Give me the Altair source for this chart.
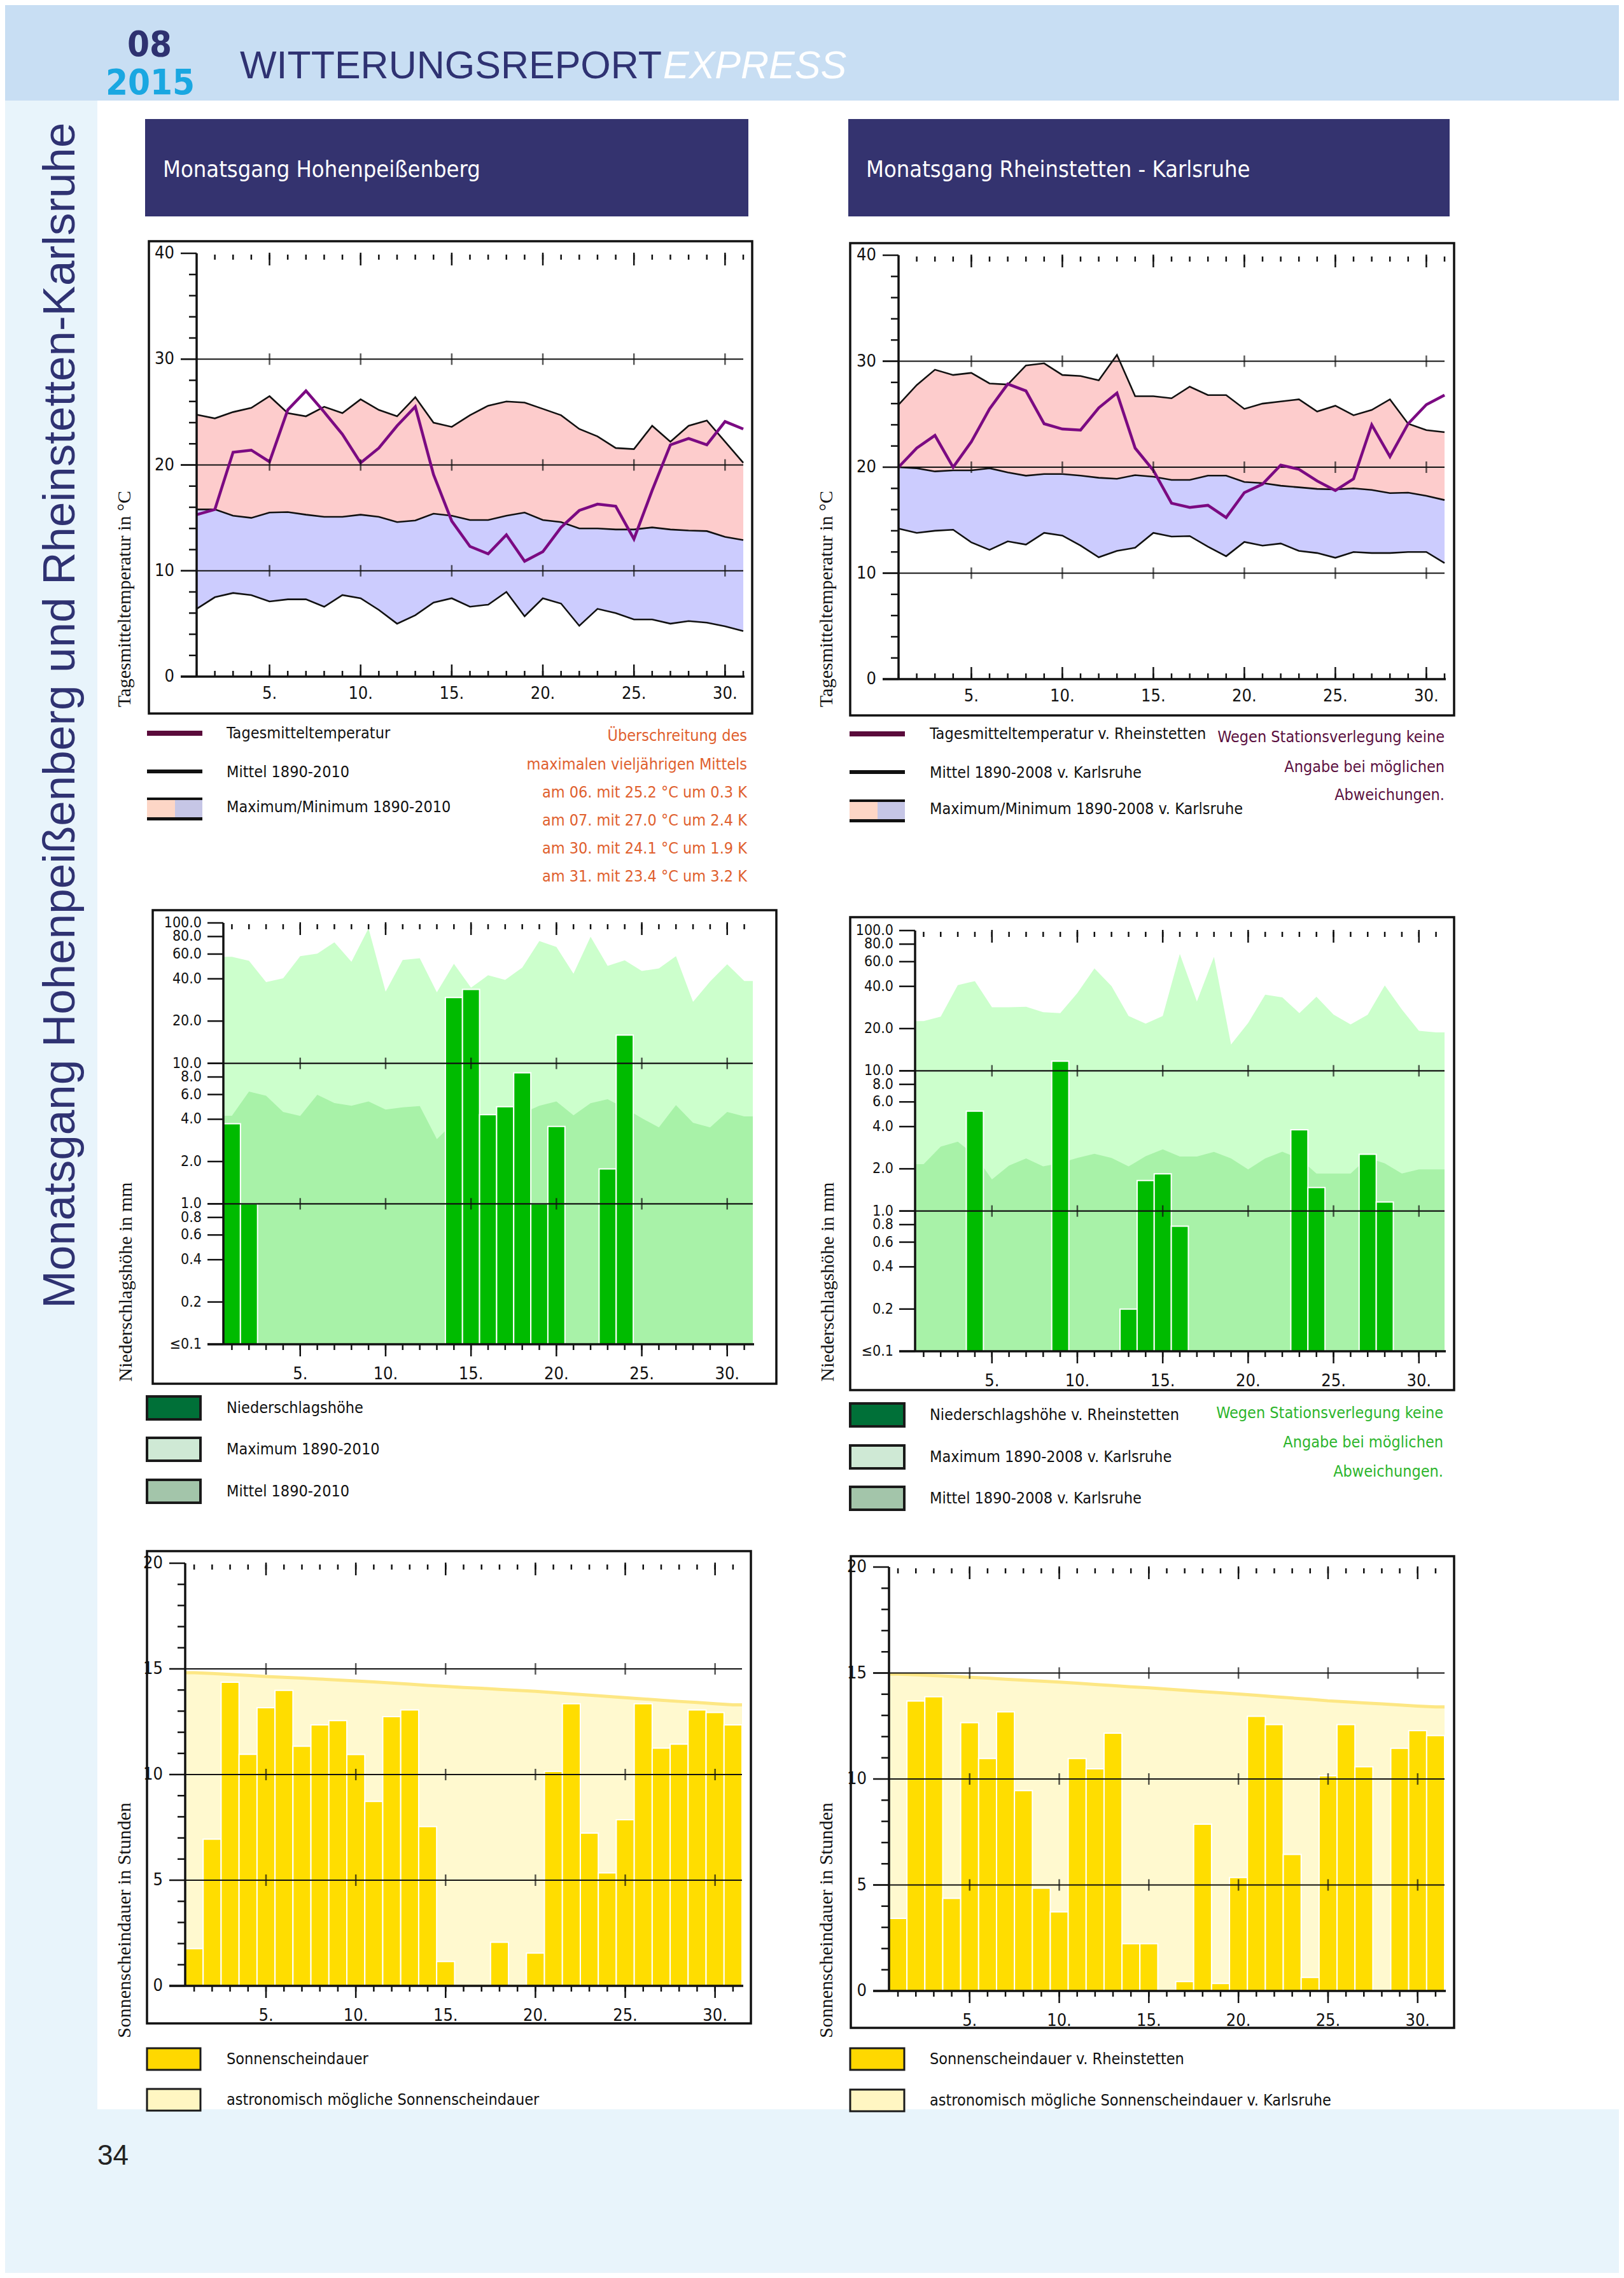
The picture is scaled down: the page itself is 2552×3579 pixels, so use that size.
import altair as alt
import pandas as pd

# ---------------------------------------------------------------- data
DAYS = list(range(1, 32))
DAY_MAJOR = [5, 10, 15, 20, 25, 30]

# Hohenpeissenberg temperature (deg C)
HP_T_MAX = [24.75, 24.4, 25.0, 25.4, 26.5, 24.9, 24.6, 25.5, 24.9, 26.2, 25.2, 24.6, 26.4, 24.0, 23.6, 24.7,
            25.6, 26.0, 25.9, 25.3, 24.7, 23.4, 22.7, 21.6, 21.5, 23.7, 22.2, 23.7, 24.2, 22.2, 20.2]
HP_T_MEAN = [15.8, 15.8, 15.2, 15.0, 15.5, 15.55, 15.3, 15.1, 15.1, 15.3, 15.1, 14.6, 14.75, 15.4, 15.2, 14.8,
             14.8, 15.2, 15.5, 14.8, 14.6, 14.0, 14.0, 13.9, 13.9, 14.1, 13.9, 13.8, 13.75, 13.2, 12.9]
HP_T_MIN = [6.4, 7.5, 7.9, 7.7, 7.1, 7.3, 7.3, 6.6, 7.7, 7.4, 6.3, 5.0, 5.8, 7.0, 7.4, 6.6,
            6.8, 8.0, 5.7, 7.4, 6.9, 4.8, 6.4, 6.0, 5.4, 5.4, 5.0, 5.25, 5.1, 4.75, 4.3]
HP_T_DAY = [15.3, 15.8, 21.2, 21.4, 20.3, 25.2, 27.0, 25.0, 22.9, 20.2, 21.6, 23.7, 25.5, 19.1, 14.7, 12.3,
            11.6, 13.4, 10.9, 11.8, 14.1, 15.7, 16.3, 16.1, 13.0, 17.6, 21.9, 22.5, 21.9, 24.1, 23.4]

# Rheinstetten / Karlsruhe temperature (deg C)
KA_T_MAX = [25.9, 27.75, 29.2, 28.7, 28.9, 27.9, 27.8, 29.6, 29.8, 28.7, 28.6, 28.2, 30.6, 26.7, 26.7, 26.5,
            27.6, 26.8, 26.8, 25.5, 26.0, 26.2, 26.4, 25.25, 25.8, 24.9, 25.4, 26.4, 24.1, 23.5, 23.3]
KA_T_MEAN = [20.0, 19.9, 19.6, 19.7, 19.7, 19.9, 19.5, 19.2, 19.35, 19.35, 19.2, 19.0, 18.9, 19.25, 19.1, 18.8,
             18.8, 19.2, 19.2, 18.6, 18.5, 18.25, 18.1, 17.95, 17.9, 18.0, 17.85, 17.55, 17.6, 17.3, 16.9]
KA_T_MIN = [14.2, 13.8, 14.0, 14.1, 12.9, 12.2, 13.0, 12.7, 13.8, 13.55, 12.6, 11.5, 12.1, 12.4, 13.8, 13.45,
            13.5, 12.5, 11.6, 12.95, 12.6, 12.8, 12.1, 11.9, 11.45, 12.0, 11.9, 11.9, 12.0, 12.0, 10.95]
KA_T_DAY = [20.0, 21.8, 23.0, 20.0, 22.4, 25.5, 27.85, 27.2, 24.1, 23.6, 23.5, 25.6, 27.0, 21.8, 19.7, 16.6,
            16.2, 16.4, 15.25, 17.6, 18.4, 20.2, 19.8, 18.7, 17.8, 18.9, 24.0, 21.0, 24.1, 25.9, 26.8]

# precipitation (mm)
HP_P_MAX = [57.4, 53.7, 37.9, 40.3, 58.0, 60.4, 72.8, 52.9, 91.4, 32.4, 54.5, 56.0, 32.1, 51.1, 34.6, 42.4,
            39.3, 48.1, 74.3, 67.5, 43.5, 79.7, 49.5, 54.2, 45.5, 47.4, 58.0, 27.4, 38.3, 50.8, 38.6]
HP_P_MEAN = [4.24, 6.29, 5.89, 4.51, 4.22, 5.98, 5.22, 4.99, 5.35, 4.69, 4.86, 4.96, 2.89, 3.8, 4.5, 4.3,
             4.2, 4.4, 4.99, 5.35, 4.27, 5.2, 5.56, 4.8, 4.07, 3.5, 5.04, 3.78, 3.5, 4.51, 4.19]
HP_PREC = [3.72, 1.0, 0, 0, 0, 0, 0, 0, 0, 0, 0, 0, 0, 29.4, 33.6, 4.31,
           4.91, 8.57, 1.0, 3.56, 0, 0, 1.77, 15.9, 0, 0, 0, 0, 0, 0, 0]

KA_P_MAX = [22.6, 24.3, 40.8, 43.6, 28.4, 28.4, 28.6, 26.2, 25.8, 35.8, 53.7, 40.2, 24.6, 21.7, 24.6, 68.1,
            31.2, 65.0, 15.4, 21.9, 34.9, 33.4, 25.8, 33.7, 25.2, 21.4, 25.1, 40.6, 27.4, 19.3, 18.8]
KA_P_MEAN = [2.16, 2.88, 3.12, 2.5, 1.68, 2.11, 2.37, 2.08, 2.2, 2.39, 2.56, 2.39, 2.08, 2.46, 2.75, 2.45,
             2.45, 2.64, 2.37, 1.98, 2.37, 2.65, 2.37, 1.85, 1.85, 1.85, 2.4, 2.19, 1.85, 1.98, 1.98]
KA_PREC = [0, 0, 0, 5.15, 0, 0, 0, 0, 11.7, 0, 0, 0, 0.2, 1.65, 1.84, 0.78,
           0, 0, 0, 0, 0, 0, 3.8, 1.47, 0, 0, 2.54, 1.16, 0, 0, 0]

# sunshine duration (h)
HP_SUN = [1.76, 6.94, 14.37, 10.96, 13.16, 13.98, 11.34, 12.35, 12.55, 10.95, 8.73, 12.74, 13.06, 7.54, 1.15, 0,
          0, 2.06, 0, 1.55, 10.15, 13.35, 7.23, 5.35, 7.86, 13.35, 11.25, 11.44, 13.06, 12.94, 12.35]
HP_ASTRO = [14.82, 14.78, 14.74, 14.69, 14.64, 14.60, 14.56, 14.52, 14.47, 14.43, 14.38, 14.33, 14.28, 14.22,
            14.17, 14.12, 14.08, 14.03, 13.98, 13.94, 13.88, 13.82, 13.76, 13.70, 13.64, 13.58, 13.52, 13.46,
            13.41, 13.35, 13.30]
KA_SUN = [3.42, 13.68, 13.88, 4.37, 12.66, 10.97, 13.17, 9.45, 4.85, 3.73, 10.97, 10.48, 12.16, 2.23, 2.23, 0,
          0.44, 7.87, 0.35, 5.35, 12.96, 12.57, 6.44, 0.64, 10.15, 12.57, 10.58, 0, 11.45, 12.28, 12.05]
KA_ASTRO = [14.95, 14.92, 14.88, 14.84, 14.80, 14.76, 14.71, 14.66, 14.62, 14.57, 14.52, 14.46, 14.41, 14.35,
            14.30, 14.24, 14.18, 14.12, 14.07, 14.01, 13.95, 13.88, 13.82, 13.76, 13.69, 13.64, 13.59, 13.54,
            13.49, 13.44, 13.40]

# axis ticks
TEMP_TICKS = [0, 10, 20, 30, 40]
TEMP_MINOR = [2, 4, 6, 8, 12, 14, 16, 18, 22, 24, 26, 28, 32, 34, 36, 38]
TEMP_GRID = [10, 20, 30]
PREC_TICKS = [100, 80, 60, 40, 20, 10, 8, 6, 4, 2, 1, 0.8, 0.6, 0.4, 0.2, 0.1]
PREC_LABELS = ["100.0", "80.0", "60.0", "40.0", "20.0", "10.0", "8.0", "6.0", "4.0", "2.0",
               "1.0", "0.8", "0.6", "0.4", "0.2", "\u22640.1"]
PREC_GRID = [1, 10]
SUN_TICKS = [0, 5, 10, 15, 20]
SUN_MINOR = [1, 2, 3, 4, 6, 7, 8, 9, 11, 12, 13, 14, 16, 17, 18, 19]
SUN_GRID = [5, 10, 15]

# ---------------------------------------------------------------- style
OFF = 8
ONE = pd.DataFrame({"k": [0]})
INK = "#111111"
NARROW = "Liberation Sans Narrow, DejaVu Sans Condensed, Liberation Sans, sans-serif"
SANS = "Liberation Sans, Arial, sans-serif"
SERIF = "Liberation Serif, DejaVu Serif, serif"
NAVY = "#34336f"
PINK = "#fdcccc"
LAV = "#ccccfe"
PURPLE = "#7b0a82"
P_MAX = "#ccffcc"
P_MEAN = "#a8f2a8"
P_BAR = "#00bb00"
S_BAR = "#ffdd00"
S_AST = "#fff9cf"
S_LINE = "#fde784"
HEAD = "#c8def3"
STRIP = "#e8f4fb"


def box(x, y, x2, y2, fill=None, stroke=None, sw=0):
    kw = {}
    if fill is None:
        kw["fill"] = "#ffffff"
        kw["fillOpacity"] = 0
    else:
        kw["fill"] = fill
    if stroke:
        kw["stroke"] = stroke
        kw["strokeWidth"] = sw
    return alt.Chart(ONE).mark_rect(**kw).encode(
        x=alt.value(x - OFF), x2=alt.value(x2 - OFF), y=alt.value(y - OFF), y2=alt.value(y2 - OFF))


def label(txt, x, y, size, color=INK, font=NARROW, align="left", angle=0, weight="normal",
          style="normal", baseline="middle"):
    return alt.Chart(ONE).mark_text(align=align, baseline=baseline, angle=angle, font=font, fontSize=size,
                                    fontWeight=weight, fontStyle=style, color=color).encode(
        x=alt.value(x - OFF), y=alt.value(y - OFF), text=alt.value(txt))


def lin(d0, d1, r0, r1):
    return alt.Scale(domain=[d0, d1], range=[r0 - OFF, r1 - OFF], nice=False, zero=False)


def logs(d0, d1, r0, r1):
    return alt.Scale(type="log", domain=[d0, d1], range=[r0 - OFF, r1 - OFF], nice=False)


def Xq(f, xs):
    return alt.X(f, type="quantitative", scale=xs, axis=None)


def Yq(f, ys):
    return alt.Y(f, type="quantitative", scale=ys, axis=None)


def grid_layers(ys, X0, X1, grid, base):
    return [
        alt.Chart(pd.DataFrame({"v": grid})).mark_rule(color=INK, strokeWidth=2.2).encode(
            y=Yq("v", ys), x=alt.value(X0 - 25 - OFF), x2=alt.value(X1 - OFF)),
        alt.Chart(pd.DataFrame({"v": [base]})).mark_rule(color=INK, strokeWidth=3.5).encode(
            y=Yq("v", ys), x=alt.value(X0 - 25 - OFF), x2=alt.value(X1 + 2 - OFF)),
    ]


def axes_layers(xs, ys, X0, X1, Y0, Y1, ticks, tick_labels, minor, grid, days_top, inward,
                label_dy, lab_size, lab_dx, ylab_size):
    L = []
    L.append(alt.Chart(ONE).mark_rule(color=INK, strokeWidth=3.5).encode(
        x=alt.value(X0 - OFF), y=alt.value(Y0 - OFF), y2=alt.value(Y1 - OFF)))
    tdf = pd.DataFrame({"v": ticks, "lab": tick_labels})
    L.append(alt.Chart(tdf).mark_rule(color=INK, strokeWidth=2.5).encode(
        y=Yq("v", ys), x=alt.value(X0 - 25 - OFF), x2=alt.value(X0 - OFF)))
    L.append(alt.Chart(tdf).mark_text(align="right", baseline="middle", font=NARROW, fontSize=ylab_size,
                                      color=INK).encode(
        y=Yq("v", ys), x=alt.value(X0 - lab_dx - OFF), text="lab:N"))
    if minor:
        L.append(alt.Chart(pd.DataFrame({"v": minor})).mark_rule(color=INK, strokeWidth=2.5).encode(
            y=Yq("v", ys), x=alt.value(X0 - 12 - OFF), x2=alt.value(X0 - OFF)))
    s = -1 if inward else 1
    dd = pd.DataFrame({"day": DAYS})
    dm = pd.DataFrame({"day": DAY_MAJOR, "lab": [f"{d}." for d in DAY_MAJOR]})
    L.append(alt.Chart(dd).mark_rule(color=INK, strokeWidth=2.5).encode(
        x=Xq("day", xs), y=alt.value(Y0 - OFF), y2=alt.value(Y0 + s * 9 - OFF)))
    L.append(alt.Chart(dm).mark_rule(color=INK, strokeWidth=2.5).encode(
        x=Xq("day", xs), y=alt.value(Y0 - OFF), y2=alt.value(Y0 + s * 19 - OFF)))
    L.append(alt.Chart(dm).mark_text(align="center", baseline="middle", font=NARROW, fontSize=lab_size,
                                     color=INK).encode(
        x=Xq("day", xs), y=alt.value(Y0 + label_dy - OFF), text="lab:N"))
    L.append(alt.Chart(pd.DataFrame({"day": days_top})).mark_rule(color=INK, strokeWidth=2.5).encode(
        x=Xq("day", xs), y=alt.value(Y1 + 2 - OFF), y2=alt.value(Y1 + 10 - OFF)))
    L.append(alt.Chart(dm).mark_rule(color=INK, strokeWidth=2.5).encode(
        x=Xq("day", xs), y=alt.value(Y1 - 1 - OFF), y2=alt.value(Y1 + 19 - OFF)))
    cross = pd.DataFrame([(d, v) for v in grid for d in DAY_MAJOR], columns=["day", "v"])
    L.append(alt.Chart(cross).mark_tick(orient="vertical", size=18, thickness=2.5, color=INK).encode(
        x=Xq("day", xs), y=Yq("v", ys)))
    return L


def temp_chart(tmax, tmean, tmin, tday, X0, X1, Y0, Y1):
    xs = lin(1, 31, X0, X1)
    ys = lin(0, 40, Y0, Y1)
    df = pd.DataFrame({"day": DAYS, "tmax": tmax, "tmean": tmean, "tmin": tmin, "tday": tday})
    b = alt.Chart(df)
    L = [
        b.mark_area(color=PINK).encode(x=Xq("day", xs), y=Yq("tmean", ys), y2="tmax"),
        b.mark_area(color=LAV).encode(x=Xq("day", xs), y=Yq("tmin", ys), y2="tmean"),
    ]
    L += grid_layers(ys, X0, X1, TEMP_GRID, 0)
    for f in ["tmax", "tmean", "tmin"]:
        L.append(b.mark_line(color=INK, strokeWidth=2.6).encode(x=Xq("day", xs), y=Yq(f, ys)))
    L.append(b.mark_line(color=PURPLE, strokeWidth=4.5).encode(x=Xq("day", xs), y=Yq("tday", ys)))
    L += axes_layers(xs, ys, X0, X1, Y0, Y1, TEMP_TICKS, [str(v) for v in TEMP_TICKS], TEMP_MINOR,
                     TEMP_GRID, DAYS[1:], True, 27, 27, 35, 27)
    return L


def precip_chart(pmax, pmean, prec, X0, X1, Y0, Y1):
    xs = lin(0.5, 31.5, X0, X1)
    ys = logs(0.1, 100, Y0, Y1)
    da = pd.DataFrame({"day": [0.5] + DAYS + [31.5],
                       "pmax": [pmax[0]] + pmax + [pmax[-1]],
                       "pmean": [pmean[0]] + pmean + [pmean[-1]]})
    db = pd.DataFrame({"day": DAYS, "p": prec})
    L = [
        alt.Chart(da).mark_area(color=P_MAX).encode(x=Xq("day", xs), y=Yq("pmax", ys), y2=alt.Y2(datum=0.1)),
        alt.Chart(da).mark_area(color=P_MEAN).encode(x=Xq("day", xs), y=Yq("pmean", ys), y2=alt.Y2(datum=0.1)),
        alt.Chart(db).transform_filter("datum.p > 0").transform_calculate(
            d0="datum.day - 0.5", d1="datum.day + 0.5").mark_rect(
            color=P_BAR, stroke="#ffffff", strokeWidth=2).encode(
            x=Xq("d0", xs), x2="d1", y=Yq("p", ys), y2=alt.Y2(datum=0.1)),
    ]
    L += grid_layers(ys, X0, X1, PREC_GRID, 0.1)
    L += axes_layers(xs, ys, X0, X1, Y0, Y1, PREC_TICKS, PREC_LABELS, [], PREC_GRID, DAYS, False, 47, 27, 34, 23)
    return L


def sun_chart(sun, ast, X0, X1, Y0, Y1):
    xs = lin(0.5, 31.5, X0, X1)
    ys = lin(0, 20, Y0, Y1)
    da = pd.DataFrame({"day": [0.5] + DAYS + [31.5], "ast": [ast[0]] + ast + [ast[-1]]})
    db = pd.DataFrame({"day": DAYS, "s": sun})
    L = [
        alt.Chart(da).mark_area(color=S_AST).encode(x=Xq("day", xs), y=Yq("ast", ys), y2=alt.Y2(datum=0)),
        alt.Chart(da).mark_line(color=S_LINE, strokeWidth=5).encode(x=Xq("day", xs), y=Yq("ast", ys)),
        alt.Chart(db).transform_filter("datum.s > 0").transform_calculate(
            d0="datum.day - 0.5", d1="datum.day + 0.5").mark_rect(
            color=S_BAR, stroke="#ffffff", strokeWidth=2).encode(
            x=Xq("d0", xs), x2="d1", y=Yq("s", ys), y2=alt.Y2(datum=0)),
    ]
    L += grid_layers(ys, X0, X1, SUN_GRID, 0)
    L += axes_layers(xs, ys, X0, X1, Y0, Y1, SUN_TICKS, [str(v) for v in SUN_TICKS], SUN_MINOR, SUN_GRID,
                     DAYS, False, 47, 27, 35, 27)
    return L


layers = []
# page background bands
layers.append(box(8, 8, 2544, 158, fill=HEAD))
layers.append(box(8, 158, 153, 3314, fill=STRIP))
layers.append(box(8, 3314, 2544, 3571, fill=STRIP))

# header
layers.append(label("08", 235, 88, 56, color="#2e3170", align="center", weight="bold", baseline="alphabetic"))
layers.append(label("2015", 236, 148, 56, color="#1aa7e1", align="center", weight="bold", baseline="alphabetic"))
layers.append(label("WITTERUNGSREPORT", 1040, 123, 61, color="#2f3272", font=SANS, align="right",
                    baseline="alphabetic"))
layers.append(label("EXPRESS", 1042, 123, 61, color="#ffffff", font=SANS, style="italic",
                    baseline="alphabetic"))
layers.append(label("Monatsgang Hohenpei\u00dfenberg und  Rheinstetten-Karlsruhe", 96, 1124, 71,
                    color="#2f3272", font=SANS, align="center", angle=270))
layers.append(label("34", 153, 3401, 44, color="#222222", font=SANS, baseline="alphabetic"))

# title boxes
layers.append(box(228, 187, 1176, 340, fill=NAVY))
layers.append(label("Monatsgang Hohenpei\u00dfenberg", 256, 267, 36, color="#ffffff"))
layers.append(box(1333, 187, 2278, 340, fill=NAVY))
layers.append(label("Monatsgang Rheinstetten - Karlsruhe", 1361, 267, 36, color="#ffffff"))

# charts
layers += temp_chart(HP_T_MAX, HP_T_MEAN, HP_T_MIN, HP_T_DAY, 309, 1168, 1063, 398)
layers += temp_chart(KA_T_MAX, KA_T_MEAN, KA_T_MIN, KA_T_DAY, 1412, 2270, 1067, 401)
layers += precip_chart(HP_P_MAX, HP_P_MEAN, HP_PREC, 351, 1183, 2112, 1450)
layers += precip_chart(KA_P_MAX, KA_P_MEAN, KA_PREC, 1438, 2270, 2123, 1462)
layers += sun_chart(HP_SUN, HP_ASTRO, 291, 1166, 3120, 2456)
layers += sun_chart(KA_SUN, KA_ASTRO, 1397, 2270, 3128, 2462)

# frames
for (a, b, c, d) in [(234, 379, 1182, 1121), (1336, 382, 2285, 1124), (240, 1430, 1220, 2174),
                     (1336, 1441, 2285, 2184), (231, 2437, 1180, 3179), (1337, 2445, 2285, 3186)]:
    layers.append(box(a, b, c, d, stroke="#111111", sw=3.5))

# y axis titles
for x in (196, 1299):
    layers.append(label("Tagesmitteltemperatur in \u00b0C", x, 941, 30, font=SERIF, align="center", angle=270))
    layers.append(label("Niederschlagsh\u00f6he in mm", x + 2, 2014, 30, font=SERIF, align="center", angle=270))
    layers.append(label("Sonnenscheindauer in Stunden", x, 3017, 30, font=SERIF, align="center", angle=270))

# temperature legends
LEG = 25
layers.append(box(231, 1148, 318, 1156, fill="#5a0b3b"))
layers.append(box(231, 1209, 318, 1215, fill=INK))
layers.append(box(231, 1253, 318, 1289, fill=INK))
layers.append(box(231, 1257, 275, 1284, fill="#fdd6c6"))
layers.append(box(275, 1257, 318, 1284, fill="#c6c6e6"))
layers.append(label("Tagesmitteltemperatur", 356, 1152, LEG))
layers.append(label("Mittel 1890-2010", 356, 1213, LEG))
layers.append(label("Maximum/Minimum 1890-2010", 356, 1268, LEG))
ORANGE = "#e0602e"
for txt, yy in [("\u00dcberschreitung des", 1156), ("maximalen vielj\u00e4hrigen Mittels", 1201),
                ("am 06. mit 25.2 \u00b0C um 0.3 K", 1245), ("am 07. mit 27.0 \u00b0C um 2.4 K", 1289),
                ("am 30. mit 24.1 \u00b0C um 1.9 K", 1333), ("am 31. mit 23.4 \u00b0C um 3.2 K", 1377)]:
    layers.append(label(txt, 1174, yy, LEG, color=ORANGE, align="right"))

layers.append(box(1335, 1149, 1422, 1157, fill="#5a0b3b"))
layers.append(box(1335, 1210, 1422, 1216, fill=INK))
layers.append(box(1335, 1256, 1422, 1292, fill=INK))
layers.append(box(1335, 1260, 1379, 1287, fill="#fdd6c6"))
layers.append(box(1379, 1260, 1422, 1287, fill="#c6c6e6"))
layers.append(label("Tagesmitteltemperatur v. Rheinstetten", 1461, 1153, LEG))
layers.append(label("Mittel 1890-2008 v. Karlsruhe", 1461, 1214, LEG))
layers.append(label("Maximum/Minimum 1890-2008 v. Karlsruhe", 1461, 1271, LEG))
for txt, yy in [("Wegen Stationsverlegung keine", 1158), ("Angabe bei m\u00f6glichen", 1205),
                ("Abweichungen.", 1249)]:
    layers.append(label(txt, 2270, yy, LEG, color="#5b1040", align="right"))

# precipitation legends
for (x0, x1, tx, rows, texts) in [
    (231, 315, 356, [2194, 2259, 2325],
     ["Niederschlagsh\u00f6he", "Maximum 1890-2010", "Mittel 1890-2010"]),
    (1336, 1421, 1461, [2205, 2271, 2336],
     ["Niederschlagsh\u00f6he v. Rheinstetten", "Maximum 1890-2008 v. Karlsruhe",
      "Mittel 1890-2008 v. Karlsruhe"]),
]:
    for y0, col, txt in zip(rows, ["#007038", "#cfe9d5", "#a3c5aa"], texts):
        layers.append(box(x0, y0, x1, y0 + 36, fill=col, stroke="#1a1a1a", sw=4))
        layers.append(label(txt, tx, y0 + 18, LEG))
for txt, yy in [("Wegen Stationsverlegung keine", 2220), ("Angabe bei m\u00f6glichen", 2266),
                ("Abweichungen.", 2312)]:
    layers.append(label(txt, 2268, yy, LEG, color="#2cb52c", align="right"))

# sunshine legends
for (x0, x1, tx, rows, texts) in [
    (231, 315, 356, [3218, 3282],
     ["Sonnenscheindauer", "astronomisch m\u00f6gliche Sonnenscheindauer"]),
    (1336, 1421, 1461, [3218, 3283],
     ["Sonnenscheindauer v. Rheinstetten", "astronomisch m\u00f6gliche Sonnenscheindauer v. Karlsruhe"]),
]:
    for y0, col, txt in zip(rows, ["#ffd800", "#fff6c2"], texts):
        layers.append(box(x0, y0, x1, y0 + 34, fill=col, stroke="#1a1a1a", sw=3))
        layers.append(label(txt, tx, y0 + 17, LEG))

chart = alt.layer(*layers).resolve_scale(x="independent", y="independent").properties(
    width=2536, height=3563, autosize=alt.AutoSizeParams(type="none"), padding=0, background="#ffffff"
).configure_view(strokeWidth=0)

chart.save("out.html", embed_options={"renderer": "svg", "actions": False})
